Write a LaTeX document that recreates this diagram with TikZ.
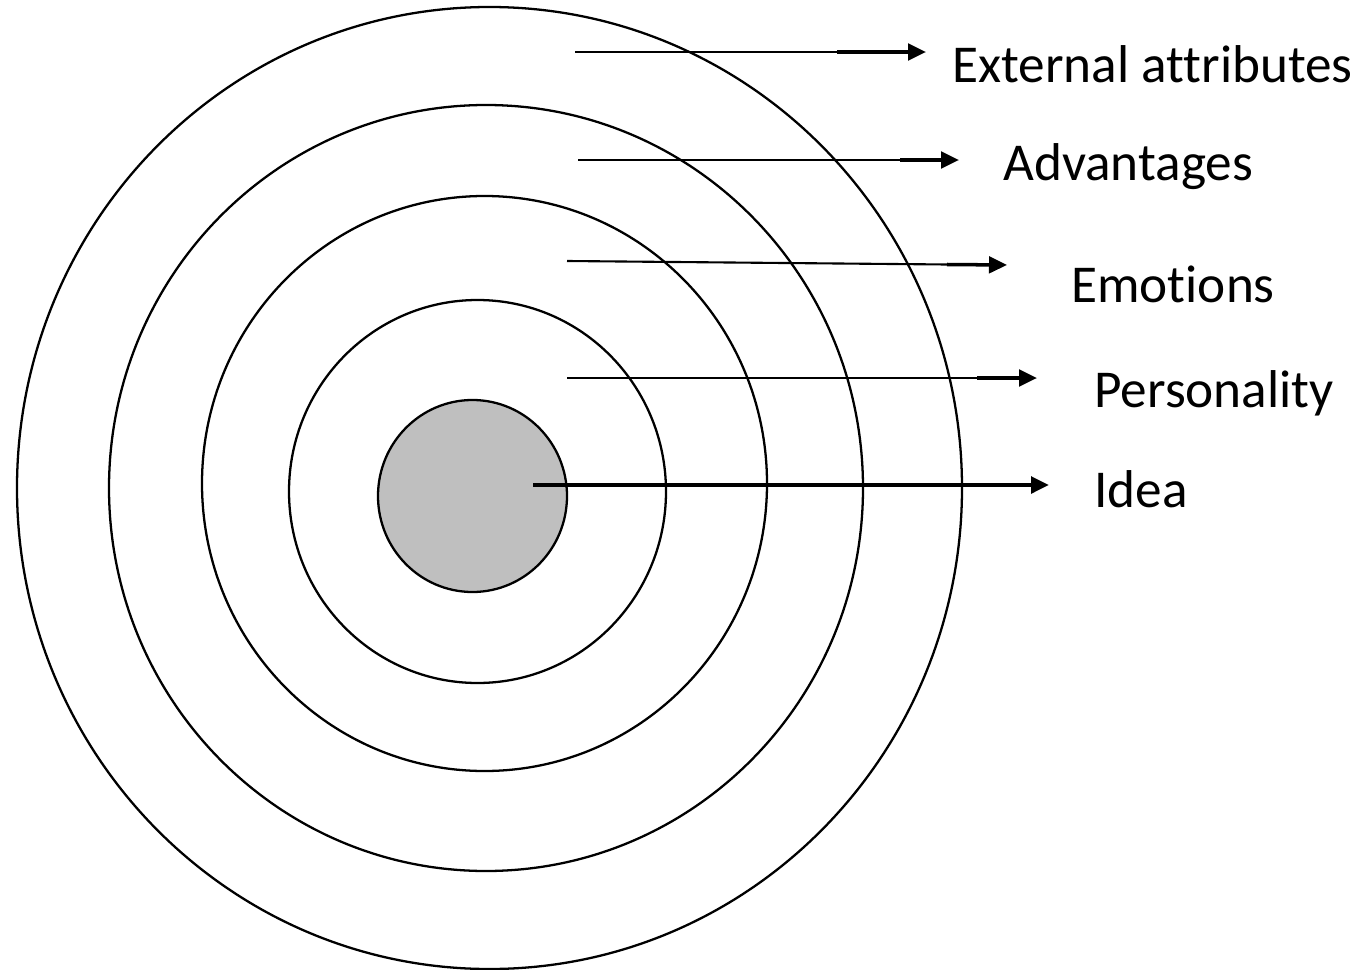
\documentclass[tikz,border=0pt]{standalone}
\usepackage{fontspec}
\setmainfont[RawFeature={-liga;-clig;-calt;-dlig}]{Carlito}
\usetikzlibrary{arrows.meta,calc}
\tikzset{
    %Define standard arrow tip
    >={Triangle[length=0.36cm,width=0.33cm]},
    %Define style for rings
    ring/.style={
           draw,
           line width=1.3pt},
    % Define arrow styles
    pil/.style={
           line width=1.2pt},
    pilhead/.style={
           ->,
           line width=2pt},
    %Define style for labels
    title/.style={
           anchor=base west,
           inner sep=0pt,
           font=\fontsize{30.3}{36}\selectfont}
}

\begin{document}
\begin{tikzpicture}[x=0.02cm, y=-0.02cm]
	\useasboundingbox (0,0) rectangle (1360,970);

	% Rings, outer to inner
	\draw[ring] (489.5,488) ellipse [x radius=472.5, y radius=481];
	\draw[ring] (486,488) ellipse [x radius=377, y radius=383];
	\draw[ring] (484.5,483.5) ellipse [x radius=282.5, y radius=287.5];
	\draw[ring] (477.5,491.5) ellipse [x radius=188.5, y radius=191.5];
	\draw[ring, fill=black!25] (472.5,496) ellipse [x radius=94.5, y radius=96];

	% Labels
	\node[title] (ext) at (952,82) {External attributes};
	\node[title] (adv) at (1003,180) {Advantages};
	\node[title] (emo) at (1071,302) {Emotions};
	\node[title] (pers) at (1094,407) {Personality};
	\node[title] (idea) at (1094,507) {Idea};

	% Arrow ends
	\coordinate (ext-s) at (575,52);   \coordinate (ext-m) at (837,52);   \coordinate (ext-e) at (926,52);
	\coordinate (adv-s) at (578,160);  \coordinate (adv-m) at (900,160);  \coordinate (adv-e) at (959,160);
	\coordinate (emo-s) at (567,261);  \coordinate (emo-m) at (947,264.5); \coordinate (emo-e) at (1007,265);
	\coordinate (pers-s) at (567,378); \coordinate (pers-m) at (977,378); \coordinate (pers-e) at (1037,378);
	\coordinate (idea-s) at (533,485); \coordinate (idea-e) at (1049,485);

	\path[pil] (ext-s) edge (ext-m)
	           (adv-s) edge (adv-m)
	           (emo-s) edge (emo-m)
	           (pers-s) edge (pers-m);
	\path[pilhead] (ext-m) edge (ext-e)
	               (adv-m) edge (adv-e)
	               (emo-m) edge (emo-e)
	               (pers-m) edge (pers-e)
	               (idea-s) edge[line width=2.3pt] (idea-e);

\end{tikzpicture}
\end{document}
